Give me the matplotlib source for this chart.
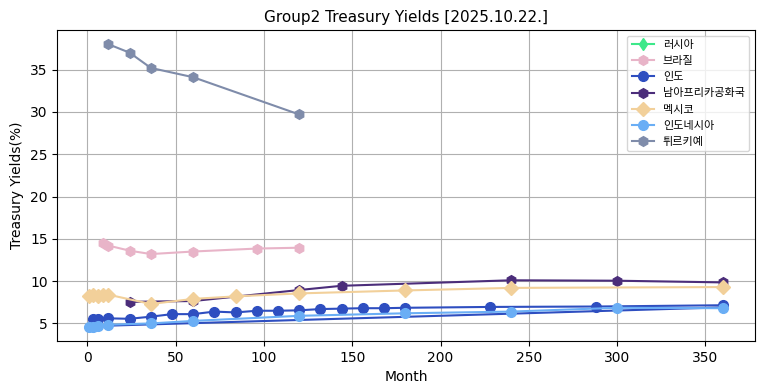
import matplotlib
matplotlib.use('Agg')
import matplotlib.pyplot as plt

plt.rcParams['font.family'] = ['DejaVu Sans', 'Noto Sans CJK KR']

# months to maturity / yields (%)
russia_x = []
russia_y = []

brazil_x = [9, 12, 24, 36, 60, 96, 120]
brazil_y = [14.5, 14.2, 13.6, 13.2, 13.5, 13.85, 13.95]

india_x = [3, 6, 12, 24, 36, 48, 60, 72, 84, 96, 108, 120, 132, 144,
           156, 168, 180, 228, 288, 360]
india_y = [5.5, 5.55, 5.6, 5.55, 5.8, 6.1, 6.1, 6.4, 6.3, 6.5, 6.5, 6.55,
           6.7, 6.75, 6.8, 6.8, 6.85, 6.95, 7.0, 7.15]

# second India trace visible under Indonesia
india2_x = [6, 360]
india2_y = [4.7, 6.9]

safrica_x = [24, 60, 120, 144, 240, 300, 360]
safrica_y = [7.55, 7.65, 8.95, 9.45, 10.1, 10.05, 9.85]

mexico_x = [1, 3, 6, 9, 12, 36, 60, 84, 120, 180, 240, 360]
mexico_y = [8.25, 8.35, 8.3, 8.4, 8.4, 7.3, 7.9, 8.2, 8.55, 8.9, 9.2, 9.3]

indonesia_x = [1, 3, 6, 12, 36, 60, 120, 180, 240, 300, 360]
indonesia_y = [4.6, 4.6, 4.65, 4.85, 5.0, 5.3, 5.9, 6.2, 6.4, 6.85, 6.8]

turkey_x = [12, 24, 36, 60, 120]
turkey_y = [38.0, 37.0, 35.2, 34.1, 29.7]

fig, ax = plt.subplots(figsize=(7.64, 3.91), dpi=100)

ax.plot(russia_x, russia_y, marker='d', color='#3DE88A', label='러시아')
ax.plot(brazil_x, brazil_y, marker='h', ms=7, color='#E8B4C8', label='브라질')
ax.plot(india_x, india_y, marker='o', ms=7, color='#2E4EC0', label='인도')
ax.plot(safrica_x, safrica_y, marker='h', ms=7, color='#4B2D7A', label='남아프리카공화국')
ax.plot(mexico_x, mexico_y, marker='D', ms=7, color='#F2D09A', label='멕시코')
ax.plot(india2_x, india2_y, color='#2E4EC0', lw=1.5)
ax.plot(indonesia_x, indonesia_y, marker='o', ms=7, color='#6AAEF5', label='인도네시아')
ax.plot(turkey_x, turkey_y, marker='h', ms=7, color='#7F8CAA', label='튀르키예')

ax.set_title('Group2 Treasury Yields [2025.10.22.]', fontsize=11)
ax.set_xlabel('Month')
ax.set_ylabel('Treasury Yields(%)')
ax.grid(True)
ax.legend(loc='upper right', fontsize=8, labelspacing=0.55)

plt.subplots_adjust(left=0.075, right=0.988, top=0.923, bottom=0.128)
plt.savefig('out.png', dpi=100)
